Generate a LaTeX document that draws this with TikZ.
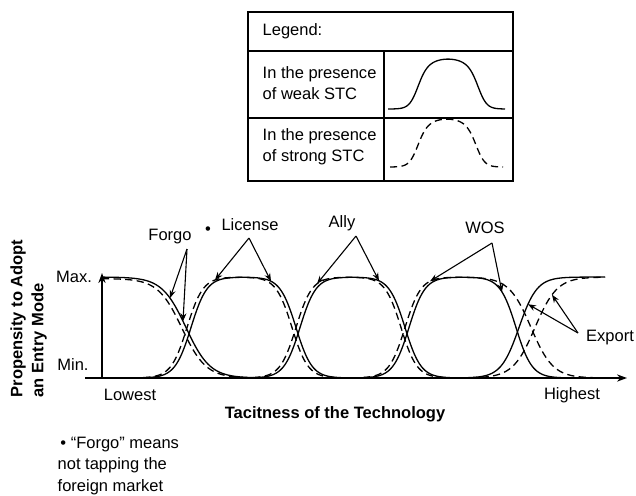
\documentclass[tikz,border=0pt]{standalone}
\usepackage{fontspec}
\setmainfont{Liberation Sans}
\usetikzlibrary{arrows.meta}

\begin{document}
\begin{tikzpicture}[x=0.5pt,y=-0.5pt,line width=0.7pt,
	font=\fontsize{8.25}{10.5}\selectfont,
	declare function={sg(\t)=1/(1+exp(-min(9,max(-9,\t))));
		hy(\f)=378-101*\f;
		bump(\q,\m,\n,\ka,\kb)=sg((\q-\m)/\ka)*sg((\n-\q)/\kb);
		dome(\q,\m,\n)=bump(\q,\m,\n,4.5,4.5)*(1-0.2*((\q-(\m+\n)/2)/31)^2);}]
	% `mode' is used for the propensity curves, `stc' makes them dashed.
	% `pointer' is used for the arrows from the labels.
	\tikzstyle{tag} = [inner sep=0pt]
	\tikzstyle{mode} = [line width=0.65pt,samples=220]
	\tikzstyle{stc} = [dash pattern=on 3.6pt off 2.2pt]
	\tikzstyle{pointer} = [line width=0.55pt,-{Stealth[length=4pt,width=3pt]}]
	\useasboundingbox (0,0) rectangle (636,495);
	%
	% Legend table.
	\draw (248,12) rectangle (513,181) (248,51) -- (513,51)
		(248,118) -- (513,118) (384,51) -- (384,181);
	\node[tag,anchor=west] (legend) at (262,31) {Legend:};
	\node[tag,anchor=west,align=left] (weak) at (262,83) {In the presence\\of weak STC};
	\node[tag,anchor=west,align=left] (strong) at (262,147) {In the presence\\of strong STC};
	\draw[mode] plot[domain=388:505] (\x,{109-50*dome(\x,417,479)});
	\draw[mode,stc] plot[domain=390:503] (\x,{167-48*dome(\x,417,477)});
	%
	% Axes.
	\coordinate (xstart) at (85,378);
	\coordinate (xend) at (627,378);
	\coordinate (origin) at (102,378);
	\coordinate (ytop) at (102,273);
	\draw[-{Stealth[length=5pt,width=3.6pt]}] (xstart) -- (xend);
	\draw[-{Stealth[length=5pt,width=3.6pt]}] (origin) -- (ytop);
	\node[tag] (max) at (74,277) {Max.};
	\node[tag] (min) at (73,365) {Min.};
	\node[tag] (lowest) at (130,395) {Lowest};
	\node[tag] (highest) at (572,395) {Highest};
	\node[tag,font=\fontsize{8.25}{10.5}\selectfont\bfseries] (xlabel) at (335,414)
		{Tacitness of the Technology};
	\node[tag,rotate=90,anchor=west,align=left,font=\fontsize{8.25}{10.5}\selectfont\bfseries]
		(ylabel) at (28.5,398) {Propensity to Adopt\\an Entry Mode};
	%
	% Weak STC (solid).
	\draw[mode] plot[domain=102:300] (\x,{hy(sg((186-\x)/12))});
	\draw[mode] plot[domain=120:380] (\x,{hy(bump(\x,191,296,8,8))});
	\draw[mode] plot[domain=230:480] (\x,{hy(bump(\x,300,405,8,8))});
	\draw[mode] plot[domain=340:600] (\x,{hy(bump(\x,409,516,8,8))});
	\draw[mode] plot[domain=460:605] (\x,{hy(sg((\x-519)/9))});
	% Strong STC (dashed).
	\draw[mode,stc] plot[domain=102:300] (\x,{hy(0.985*sg((182-\x)/12))});
	\draw[mode,stc] plot[domain=120:380] (\x,{hy(bump(\x,187,292,8,8))});
	\draw[mode,stc] plot[domain=230:480] (\x,{hy(bump(\x,296,401,8,8))});
	\draw[mode,stc] plot[domain=340:610] (\x,{hy(bump(\x,405,531,8,11))});
	\draw[mode,stc] plot[domain=470:605] (\x,{hy(sg((\x-535)/11))});
	%
	% Mode labels and their arrows.
	\node[tag] (forgo) at (170,237) {Forgo};
	\node[tag] (dot) at (208,231) {•};
	\node[tag] (license) at (250,225) {License};
	\node[tag] (ally) at (342,223) {Ally};
	\node[tag] (wos) at (485,228) {WOS};
	\node[tag] (export) at (610,338) {Export};
	\coordinate (forgoApex) at (187,249);
	\coordinate (licenseApex) at (249,238);
	\coordinate (allyApex) at (356,236);
	\coordinate (wosApex) at (492,243);
	\coordinate (exportApex) at (578,333);
	\coordinate (forgoTipA) at (170,{hy(sg((186-170)/12))});
	\coordinate (forgoTipB) at (183,{hy(sg((186-183)/12))});
	\coordinate (licenseTipA) at (215,{hy(bump(215,187,292,8,8))});
	\coordinate (licenseTipB) at (271,{hy(bump(271,191,296,8,8))});
	\coordinate (allyTipA) at (317,{hy(bump(317,296,401,8,8))});
	\coordinate (allyTipB) at (379,{hy(bump(379,300,405,8,8))});
	\coordinate (wosTipA) at (430,{hy(bump(430,405,531,8,11))});
	\coordinate (wosTipB) at (502,{hy(bump(502,409,516,8,8))});
	\coordinate (exportTipA) at (528,{hy(sg((528-519)/9))});
	\coordinate (exportTipB) at (552,{hy(sg((552-535)/11))});
	\draw[pointer] (forgoApex) -- (forgoTipA);
	\draw[pointer] (forgoApex) -- (forgoTipB);
	\draw[pointer] (licenseApex) -- (licenseTipA);
	\draw[pointer] (licenseApex) -- (licenseTipB);
	\draw[pointer] (allyApex) -- (allyTipA);
	\draw[pointer] (allyApex) -- (allyTipB);
	\draw[pointer] (wosApex) -- (wosTipA);
	\draw[pointer] (wosApex) -- (wosTipB);
	\draw[pointer] (exportApex) -- (exportTipA);
	\draw[pointer] (exportApex) -- (exportTipB);
	%
	% Note below the chart.
	\node[tag,anchor=north west,align=left,font=\fontsize{8.25}{10.75}\selectfont]
		(note) at (57,436) {\,• “Forgo” means\\not tapping the\\foreign market};
\end{tikzpicture}
\end{document}
